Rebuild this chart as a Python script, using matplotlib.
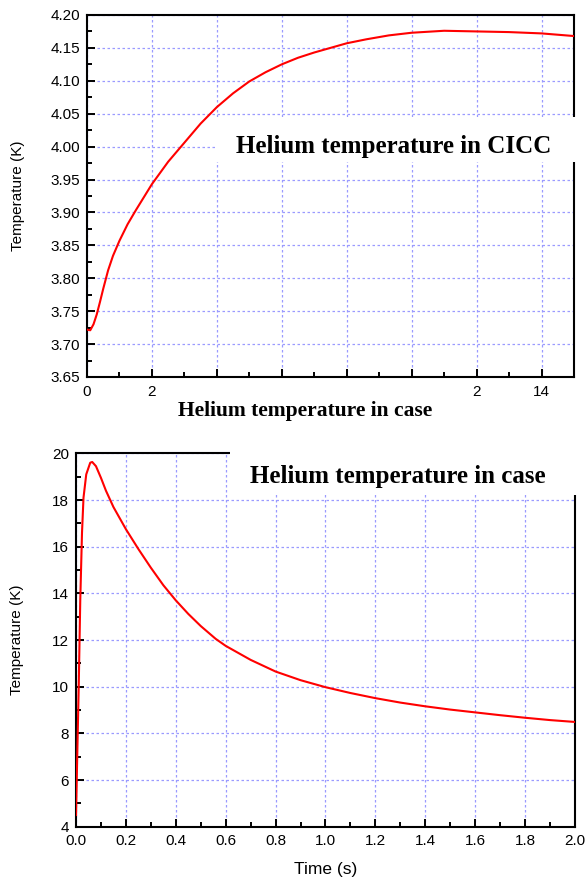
import matplotlib
matplotlib.use("Agg")
import matplotlib.pyplot as plt
from matplotlib.patches import Rectangle
from matplotlib.ticker import MultipleLocator, FixedLocator, FixedFormatter, FormatStrFormatter

plt.rcParams['font.family'] = ['Liberation Sans', 'DejaVu Sans']

# -------------------------------------------------------------------------
# Data
# -------------------------------------------------------------------------
# top panel: helium temperature in CICC
cicc_time = [0, 0.1, 0.2, 0.3, 0.4, 0.5, 0.65, 0.8, 1.0, 1.25, 1.5, 1.75, 2.0,
             2.5, 3.0, 3.5, 4.0, 4.5, 5.0, 5.5, 6.0, 6.5, 7.0, 7.5, 8.0, 8.6,
             9.3, 10.0, 11.0, 12.0, 13.0, 14.0, 15.0]
cicc_temp = [3.722, 3.721, 3.730, 3.745, 3.764, 3.784, 3.812, 3.834, 3.857, 3.882,
             3.903, 3.923, 3.943, 3.977, 4.006, 4.035, 4.060, 4.081, 4.099, 4.113,
             4.125, 4.135, 4.143, 4.150, 4.157, 4.163, 4.169, 4.173, 4.176, 4.175,
             4.174, 4.172, 4.168]
cicc_xticks = [0, 2, 4, 6, 8, 10, 12, 14]
cicc_xlabels = ["0", "2", "", "", "", "", "2", "14"]

# bottom panel: helium temperature in case
case_time = [0, 0.004, 0.011, 0.017, 0.024, 0.03, 0.041, 0.057, 0.065, 0.08, 0.10,
             0.12, 0.15, 0.20, 0.25, 0.30, 0.35, 0.40, 0.45, 0.50, 0.56, 0.60,
             0.70, 0.80, 0.90, 1.0, 1.1, 1.2, 1.3, 1.4, 1.5, 1.6, 1.7, 1.8, 1.9, 2.0]
case_temp = [4.5, 6.57, 10.1, 13.7, 16.6, 18.1, 19.1, 19.6, 19.63, 19.45, 18.95,
             18.4, 17.7, 16.75, 15.9, 15.1, 14.35, 13.7, 13.12, 12.6, 12.05, 11.75,
             11.15, 10.65, 10.28, 9.98, 9.73, 9.51, 9.32, 9.16, 9.02, 8.9, 8.78,
             8.67, 8.57, 8.49]

# -------------------------------------------------------------------------
# Styling helpers
# -------------------------------------------------------------------------
RED = "#ff0000"
GRID = dict(color="#9a9aff", linestyle=(0, (2, 2)), linewidth=0.9)
SERIF = ["Liberation Serif", "DejaVu Serif"]


def style_axes(ax):
    for s in ax.spines.values():
        s.set_linewidth(1.5)
        s.set_color("black")
    ax.tick_params(which="both", direction="in", top=False, right=False, width=1.4,
                   labelsize=11)
    ax.tick_params(which="major", length=6)
    ax.tick_params(which="minor", length=3.5)
    ax.tick_params(axis="y", pad=5)
    ax.tick_params(axis="x", pad=6)
    ax.grid(True, which="major", **GRID)
    ax.set_axisbelow(True)


fig = plt.figure(figsize=(5.87, 8.86), dpi=100)

# -- top panel --
ax1 = fig.add_axes([0.1482, 0.5745, 0.8296, 0.4086])
ax1.plot(cicc_time, cicc_temp, color=RED, linewidth=1.5, zorder=3)
ax1.set_xlim(0, 15)
ax1.set_ylim(3.65, 4.20)
ax1.xaxis.set_major_locator(FixedLocator(cicc_xticks))
ax1.xaxis.set_major_formatter(FixedFormatter(cicc_xlabels))
ax1.xaxis.set_minor_locator(MultipleLocator(1))
ax1.yaxis.set_major_locator(MultipleLocator(0.05))
ax1.yaxis.set_minor_locator(MultipleLocator(0.025))
ax1.yaxis.set_major_formatter(FormatStrFormatter("%.2f"))
style_axes(ax1)
ax1.set_ylabel("Temperature (K)", fontsize=11)
ax1.yaxis.set_label_coords(-0.127, 0.5)

# white box over the grid with the caption
ax1.add_patch(Rectangle((0.263, 0.594), 0.76, 0.124, transform=ax1.transAxes,
                        facecolor="white", edgecolor="none", clip_on=False, zorder=4))
ax1.text(0.629, 0.619, "Helium temperature in CICC", transform=ax1.transAxes,
         ha="center", va="baseline", fontsize=18, fontweight="bold",
         family=SERIF, zorder=5)
ax1.text(0.447, -0.108, "Helium temperature in case", transform=ax1.transAxes,
         ha="center", va="baseline", fontsize=15.5, fontweight="bold",
         family=SERIF)

# -- bottom panel --
ax2 = fig.add_axes([0.1295, 0.0669, 0.850, 0.4214])
ax2.plot(case_time, case_temp, color=RED, linewidth=1.5, zorder=3)
ax2.set_xlim(0, 2.0)
ax2.set_ylim(4, 20)
ax2.xaxis.set_major_locator(MultipleLocator(0.2))
ax2.xaxis.set_minor_locator(MultipleLocator(0.1))
ax2.xaxis.set_major_formatter(FormatStrFormatter("%.1f"))
ax2.yaxis.set_major_locator(MultipleLocator(2))
ax2.yaxis.set_minor_locator(MultipleLocator(1))
style_axes(ax2)
ax2.tick_params(axis="x", pad=5)
ax2.set_ylabel("Temperature (K)", fontsize=11)
ax2.yaxis.set_label_coords(-0.104, 0.5)
ax2.set_xlabel("Time (s)", fontsize=12.5)
ax2.xaxis.set_label_coords(0.5, -0.095)

ax2.add_patch(Rectangle((0.309, 0.888), 0.72, 0.14, transform=ax2.transAxes,
                        facecolor="white", edgecolor="none", clip_on=False, zorder=4))
ax2.text(0.645, 0.920, "Helium temperature in case", transform=ax2.transAxes,
         ha="center", va="baseline", fontsize=18, fontweight="bold",
         family=SERIF, zorder=5)

fig.savefig("out.png", dpi=100)
